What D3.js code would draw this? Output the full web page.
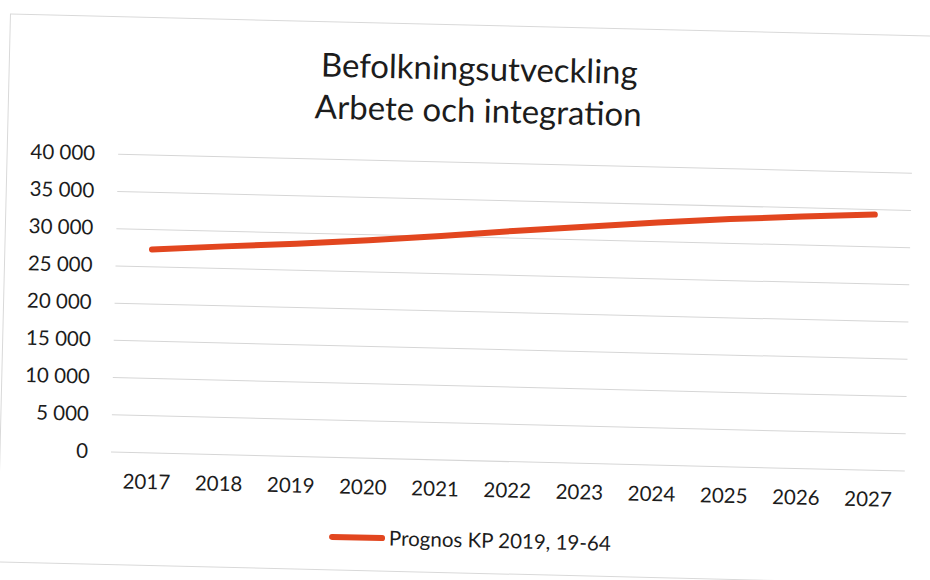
<!DOCTYPE html>
<html>
<head>
<meta charset="utf-8">
<script src="https://cdn.jsdelivr.net/npm/d3@7"></script>
<style>
  body { margin: 0; background: #fff; }
  svg { display: block; }
  text { font-family: Lato, "Open Sans", sans-serif; fill: #1c1c1c; }
</style>
</head>
<body>
<svg width="930" height="580"></svg>
<script>
// data
const years = ['2017', '2018', '2019', '2020', '2021', '2022', '2023', '2024', '2025', '2026', '2027']
const prognos = [27250, 27900, 28500, 29200, 30000, 30900, 31700, 32500, 33200, 33750, 34250]
const yTicks = [0, 5000, 10000, 15000, 20000, 25000, 30000, 35000, 40000]
const titleLines = ['Befolkningsutveckling', 'Arbete och integration']
const seriesName = 'Prognos KP 2019, 19-64'

const lineColor = '#e2461f'
const gridColor = '#d6d6d6'

const svg = d3.select('svg')

// the scan is tilted a little clockwise
const g = svg.append('g')
    .attr('transform', 'rotate(1.37,465,290)')

g.append('rect')
    .attr('x', 4)
    .attr('y', 25)
    .attr('width', 980)
    .attr('height', 548)
    .attr('fill', 'white')
    .attr('stroke', '#d9d9d9')

const x = d3.scaleBand()
    .domain(years)
    .range([115, 909])

const y = d3.scaleLinear()
    .domain([0, 40000])
    .range([460, 162])

const fmt = d => d3.format(',')(d).replace(/,/g, ' ')

// title
g.append('g').selectAll('text').data(titleLines)
    .enter().append('text')
        .attr('x', 474)
        .attr('y', (d, i) => 80 + i * 42)
        .attr('text-anchor', 'middle')
        .attr('font-size', 33)
        .text(d => d)

// y axis + gridlines
const yAxis = g.append('g')
    .attr('transform', 'translate(115,0)')
    .call(d3.axisLeft(y)
        .tickValues(yTicks)
        .tickFormat(fmt)
        .tickSize(-(909 - 115))
        .tickPadding(23))

yAxis.select('.domain').remove()
yAxis.selectAll('line')
    .attr('stroke', gridColor)
yAxis.selectAll('text')
    .attr('font-size', 20.5)
    .attr('font-family', 'Lato, sans-serif')
    .attr('fill', '#1c1c1c')

// x axis labels
const xAxis = g.append('g')
    .attr('transform', 'translate(0,460)')
    .call(d3.axisBottom(x)
        .tickSize(0)
        .tickPadding(22))

xAxis.select('.domain').remove()
xAxis.selectAll('text')
    .attr('font-size', 20.5)
    .attr('font-family', 'Lato, sans-serif')
    .attr('fill', '#1c1c1c')

// series line
const line = d3.line()
    .x((d, i) => x(years[i]) + x.bandwidth() / 2)
    .y(d => y(d))

g.append('path')
    .datum(prognos)
    .attr('d', line)
    .attr('fill', 'none')
    .attr('stroke', lineColor)
    .attr('stroke-width', 6)
    .attr('stroke-linecap', 'round')
    .attr('stroke-linejoin', 'round')

// legend
const legend = g.append('g')
    .attr('transform', 'translate(338,540)')

legend.append('line')
    .attr('x1', 0)
    .attr('x2', 50)
    .attr('stroke', lineColor)
    .attr('stroke-width', 6)
    .attr('stroke-linecap', 'round')

legend.append('text')
    .attr('x', 57)
    .attr('dy', '0.35em')
    .attr('font-size', 20.5)
    .text(seriesName)
</script>
</body>
</html>
